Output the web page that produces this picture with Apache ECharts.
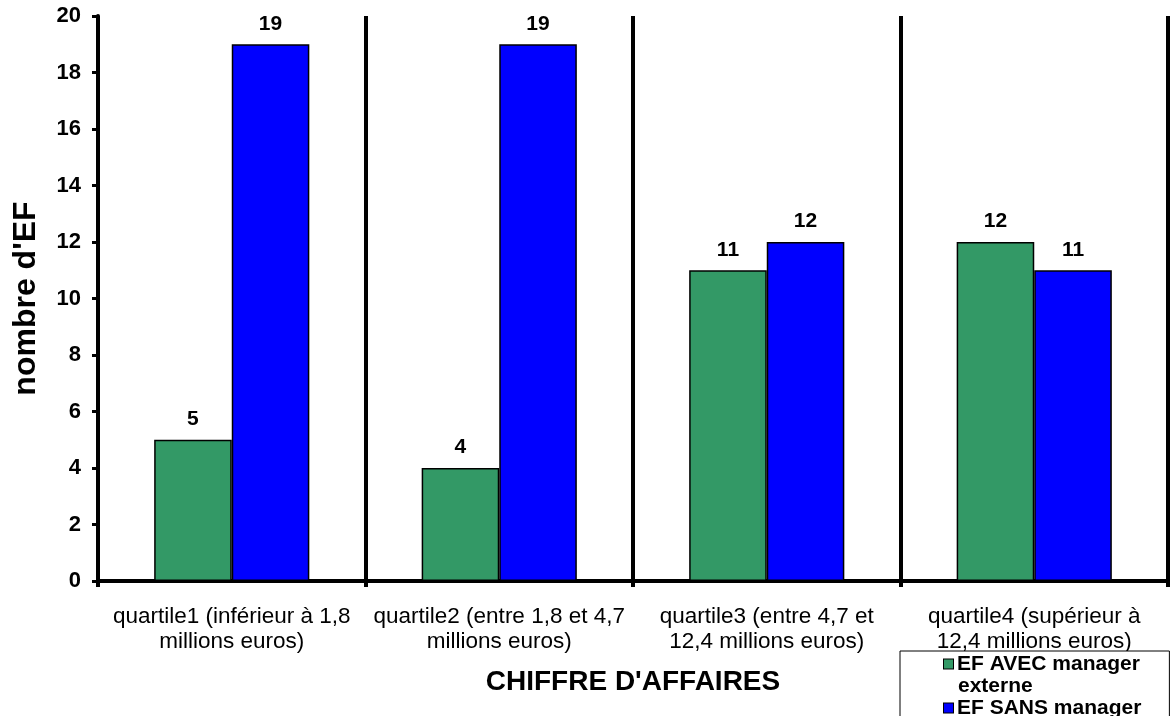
<!DOCTYPE html>
<html>
<head>
<meta charset="utf-8">
<script src="https://cdn.jsdelivr.net/npm/echarts@6/dist/echarts.min.js"></script>
<style>
  html, body { margin: 0; padding: 0; background: #fff; }
  #chart { width: 1176px; height: 716px; }
</style>
</head>
<body>
<div id="chart"></div>
<script>
// Revenue quartiles and company counts per management type
const categories = [
  'quartile1 (inférieur à 1,8\nmillions euros)',
  'quartile2 (entre 1,8 et 4,7\nmillions euros)',
  'quartile3 (entre 4,7 et\n12,4 millions euros)',
  'quartile4 (supérieur à\n12,4 millions euros)'
];
const avecManager = [5, 4, 11, 12];
const sansManager = [19, 19, 12, 11];
const seriesNames = ['EF AVEC manager\nexterne', 'EF SANS manager'];
const seriesColors = ['#339966', '#0000FF'];
const yTicks = { min: 0, max: 20, interval: 2 };

const FONT = '"Liberation Sans", Arial, sans-serif';
const chart = echarts.init(document.getElementById('chart'), null, { renderer: 'canvas' });

const labelStyle = {
  show: true,
  position: 'top',
  distance: 10,
  color: '#000',
  fontFamily: FONT,
  fontWeight: 'bold',
  fontSize: 21
};

// legend text: coloured square on the first line, following lines indented under the text
const legendText = { fontFamily: FONT, fontWeight: 'bold', fontSize: 21, color: '#000', lineHeight: 22 };
const legendRich = {
  t: legendText,
  s: { width: 14, height: 10 },
  p: { width: 4, height: 10 }
};
seriesColors.forEach((c, i) => {
  legendRich['m' + i] = { width: 9, height: 9, backgroundColor: c, borderColor: '#000', borderWidth: 1 };
});

chart.setOption({
  animation: false,
  backgroundColor: '#fff',
  textStyle: { fontFamily: FONT },
  grid: { left: 98, right: 8, top: 16, bottom: 135, containLabel: false },
  legend: {
    orient: 'vertical',
    left: 900,
    top: 651,
    itemWidth: 0,
    itemHeight: 0,
    itemGap: 0,
    padding: [2, 28, 2, 38],
    borderColor: '#000',
    borderWidth: 1,
    backgroundColor: '#fff',
    data: seriesNames,
    formatter: function (name) {
      const i = seriesNames.indexOf(name);
      return name.split('\n').map((line, k) =>
        (k === 0 ? '{m' + i + '|}{p|}' : '{s|}') + '{t|' + line + '}'
      ).join('\n');
    },
    textStyle: Object.assign({}, legendText, { rich: legendRich })
  },
  xAxis: {
    type: 'category',
    data: categories,
    name: "CHIFFRE D'AFFAIRES",
    nameLocation: 'middle',
    nameGap: 87,
    nameTextStyle: { fontFamily: FONT, fontWeight: 'bold', fontSize: 28, color: '#000' },
    axisLine: { lineStyle: { color: '#000', width: 4 } },
    axisTick: { show: true, length: 6, lineStyle: { color: '#000', width: 4 } },
    axisLabel: { color: '#000', fontFamily: FONT, fontSize: 22.5, lineHeight: 25, margin: 23, interval: 0 },
    splitLine: { show: true, interval: 0, lineStyle: { color: '#000', width: 4 } }
  },
  yAxis: {
    type: 'value',
    min: yTicks.min,
    max: yTicks.max,
    interval: yTicks.interval,
    name: "nombre d'EF",
    nameLocation: 'middle',
    nameGap: 56,
    nameTextStyle: { fontFamily: FONT, fontWeight: 'bold', fontSize: 32, color: '#000' },
    axisLine: { show: true, lineStyle: { color: '#000', width: 4 } },
    axisTick: { show: true, length: 6, lineStyle: { color: '#000', width: 3 } },
    axisLabel: { color: '#000', fontFamily: FONT, fontWeight: 'bold', fontSize: 22, margin: 17 },
    splitLine: { show: false }
  },
  series: [
    {
      name: seriesNames[0],
      type: 'bar',
      data: avecManager,
      barGap: '0%',
      barCategoryGap: '42%',
      itemStyle: { color: seriesColors[0], borderColor: '#000', borderWidth: 1.5 },
      label: labelStyle
    },
    {
      name: seriesNames[1],
      type: 'bar',
      data: sansManager,
      barGap: '0%',
      barCategoryGap: '42%',
      itemStyle: { color: seriesColors[1], borderColor: '#000', borderWidth: 1.5 },
      label: labelStyle
    }
  ]
});
</script>
</body>
</html>
